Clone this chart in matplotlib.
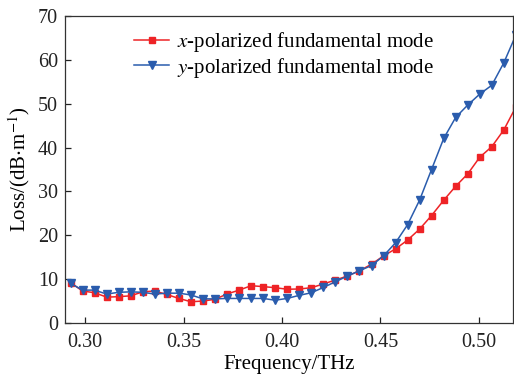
import matplotlib
matplotlib.use("Agg")
import matplotlib.pyplot as plt

plt.rcParams["font.family"] = ["Liberation Serif", "DejaVu Serif"]
plt.rcParams["mathtext.fontset"] = "stix"

# frequency grid (THz)
freq = [0.2925, 0.2986, 0.3047, 0.3109, 0.3170, 0.3231, 0.3292, 0.3353,
        0.3414, 0.3476, 0.3537, 0.3598, 0.3659, 0.3720, 0.3782, 0.3843,
        0.3904, 0.3965, 0.4026, 0.4087, 0.4149, 0.4210, 0.4271, 0.4332,
        0.4393, 0.4455, 0.4516, 0.4577, 0.4638, 0.4699, 0.4760, 0.4822,
        0.4883, 0.4944, 0.5005, 0.5066, 0.5127, 0.5189]

loss_x = [9.2, 7.3, 6.9, 5.9, 6.0, 6.2, 7.1, 7.3, 6.5, 5.6, 4.85, 5.0,
          5.4, 6.6, 7.5, 8.5, 8.3, 8.05, 7.7, 7.75, 8.05, 8.9, 9.8, 10.7,
          11.9, 13.4, 15.3, 16.9, 18.9, 21.4, 24.5, 28.0, 31.2, 34.0, 37.8,
          40.2, 44.0, 49.3]

loss_y = [9.05, 7.5, 7.5, 6.6, 7.0, 7.1, 7.0, 6.6, 6.8, 6.8, 6.4, 5.5,
          5.5, 5.6, 5.6, 5.6, 5.6, 5.2, 5.6, 6.3, 6.9, 8.1, 9.4, 10.7,
          11.9, 13.1, 15.3, 18.3, 22.4, 28.0, 35.0, 42.1, 46.9, 49.7, 52.2,
          54.2, 59.3, 65.7]

x_ticks = [0.30, 0.35, 0.40, 0.45, 0.50]
y_ticks = [0, 10, 20, 30, 40, 50, 60, 70]

fig = plt.figure(figsize=(5.14, 3.75), dpi=100)
ax = fig.add_axes([65 / 514, 1 - 323 / 375, 448 / 514, 307 / 375])

ax.plot(freq, loss_x, color="#ee2326", marker="s", markersize=4.5, lw=1.1,
        label=r"$\mathit{x}$-polarized fundamental mode")
ax.plot(freq, loss_y, color="#2a5cad", marker="v", markersize=5.5, lw=1.1,
        label=r"$\mathit{y}$-polarized fundamental mode")

ax.set_xlim(0.2897, 0.5174)
ax.set_ylim(0, 70)
ax.set_xticks(x_ticks)
ax.set_xticklabels([f"{t:.2f}" for t in x_ticks])
ax.set_yticks(y_ticks)
ax.tick_params(direction="in", length=4, width=0.9, labelsize=14.5, colors="#222222")
ax.tick_params(axis="x", pad=7)
ax.tick_params(axis="y", pad=5)
for s in ax.spines.values():
    s.set_linewidth(0.9)
    s.set_color("#333333")

ax.set_xlabel("Frequency/THz", fontsize=15, labelpad=2)
ax.set_ylabel(r"Loss/(dB$\cdot$m$^{-1}$)", fontsize=15, labelpad=4)

ax.legend(loc="upper left", bbox_to_anchor=(0.135, 0.98), frameon=False,
          fontsize=15, handlelength=1.7, handletextpad=0.35, labelspacing=0.05,
          borderaxespad=0)

fig.savefig("out.png", dpi=100)
